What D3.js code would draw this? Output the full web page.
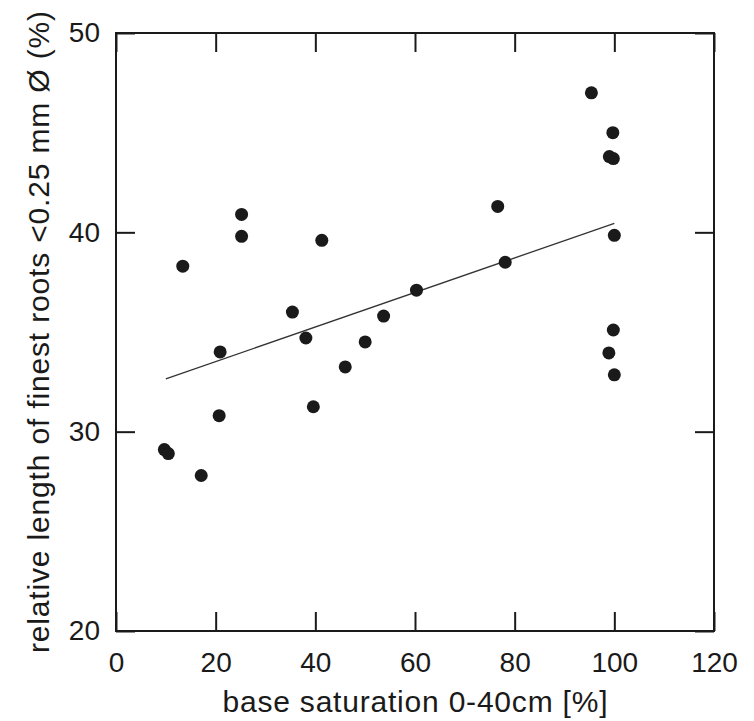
<!DOCTYPE html>
<html>
<head>
<meta charset="utf-8">
<script src="https://cdn.jsdelivr.net/npm/d3@7"></script>
<style>
  body { margin: 0; background: #fff; }
  svg text { font-family: "Liberation Sans", Arial, sans-serif; fill: #1a1a1a; }
</style>
</head>
<body>
<svg id="chart"></svg>
<script>
// base saturation 0-40cm [%]
const baseSat = [13.4, 25.2, 25.2, 41.3, 35.4, 38.1, 50.0, 20.9, 95.4, 99.7, 99.0, 99.8, 76.6,
  100.0, 78.1, 60.3, 53.7, 99.8, 98.9, 46.0, 39.6, 20.7, 9.7, 10.5, 17.1, 100.0];
// relative length of finest roots (%)
const rootLen = [38.3, 40.9, 39.8, 39.6, 36.0, 34.7, 34.5, 34.0, 47.0, 45.0, 43.8, 43.7, 41.3,
  39.85, 38.5, 37.1, 35.8, 35.1, 33.95, 33.25, 31.25, 30.8, 29.1, 28.9, 27.8, 32.85];
// regression line end points
const fitX = [10, 100];
const fitY = [32.65, 40.45];

const xTicks = [0, 20, 40, 60, 80, 100, 120];
const yTicks = [20, 30, 40, 50];

const width = 754, height = 721;
const margin = {top: 33, right: 40, bottom: 90, left: 116};
const tickLen = 19;
const font = '"Liberation Sans", Arial, sans-serif';

const svg = d3.select('#chart')
  .attr('width', width)
  .attr('height', height);

const x = d3.scaleLinear().domain([0, 120]).range([margin.left, width - margin.right]);
const y = d3.scaleLinear().domain([20, 50]).range([height - margin.bottom, margin.top]);

const ink = '#1a1a1a';

// bottom axis, ticks pointing inward
svg.append('g')
  .attr('transform', `translate(0,${y(20)})`)
  .call(d3.axisBottom(x).tickValues(xTicks).tickSizeInner(-tickLen).tickSizeOuter(0).tickPadding(21))
  .call(g => g.select('.domain').remove())
  .call(g => g.selectAll('.tick line').attr('stroke', ink).attr('stroke-width', 2))
  .call(g => g.selectAll('.tick text').attr('font-size', 28).style('font-family', font).attr('fill', ink));

// top ticks
svg.append('g')
  .attr('transform', `translate(0,${y(50)})`)
  .call(d3.axisTop(x).tickValues(xTicks).tickSizeInner(-tickLen).tickSizeOuter(0).tickFormat(''))
  .call(g => g.select('.domain').remove())
  .call(g => g.selectAll('.tick line').attr('stroke', ink).attr('stroke-width', 2));

// left axis
svg.append('g')
  .attr('transform', `translate(${x(0)},0)`)
  .call(d3.axisLeft(y).tickValues(yTicks).tickSizeInner(-tickLen).tickSizeOuter(0).tickPadding(16))
  .call(g => g.select('.domain').remove())
  .call(g => g.selectAll('.tick line').attr('stroke', ink).attr('stroke-width', 2))
  .call(g => g.selectAll('.tick text').attr('font-size', 28).style('font-family', font).attr('fill', ink));

// right ticks
svg.append('g')
  .attr('transform', `translate(${x(120)},0)`)
  .call(d3.axisRight(y).tickValues(yTicks).tickSizeInner(-tickLen).tickSizeOuter(0).tickFormat(''))
  .call(g => g.select('.domain').remove())
  .call(g => g.selectAll('.tick line').attr('stroke', ink).attr('stroke-width', 2));

// frame
svg.append('rect')
  .attr('x', x(0))
  .attr('y', y(50))
  .attr('width', x(120) - x(0))
  .attr('height', y(20) - y(50))
  .attr('fill', 'none')
  .attr('stroke', ink)
  .attr('stroke-width', 2);

// regression line
svg.append('line')
  .attr('x1', x(fitX[0]))
  .attr('y1', y(fitY[0]))
  .attr('x2', x(fitX[1]))
  .attr('y2', y(fitY[1]))
  .attr('stroke', '#333')
  .attr('stroke-width', 1.3);

// points
svg.append('g')
  .selectAll('circle')
  .data(baseSat)
  .enter().append('circle')
  .attr('cx', d => x(d))
  .attr('cy', (d, i) => y(rootLen[i]))
  .attr('r', 6.5)
  .attr('fill', ink);

// axis titles
svg.append('text')
  .attr('x', (x(0) + x(120)) / 2)
  .attr('y', 712)
  .attr('text-anchor', 'middle')
  .attr('font-size', 30)
  .attr('textLength', 385)
  .attr('lengthAdjust', 'spacing')
  .text('base saturation 0-40cm [%]');

svg.append('text')
  .attr('transform', 'translate(49,332) rotate(-90)')
  .attr('text-anchor', 'middle')
  .attr('font-size', 30)
  .attr('textLength', 642)
  .attr('lengthAdjust', 'spacing')
  .text('relative length of finest roots <0.25 mm Ø (%)');
</script>
</body>
</html>
